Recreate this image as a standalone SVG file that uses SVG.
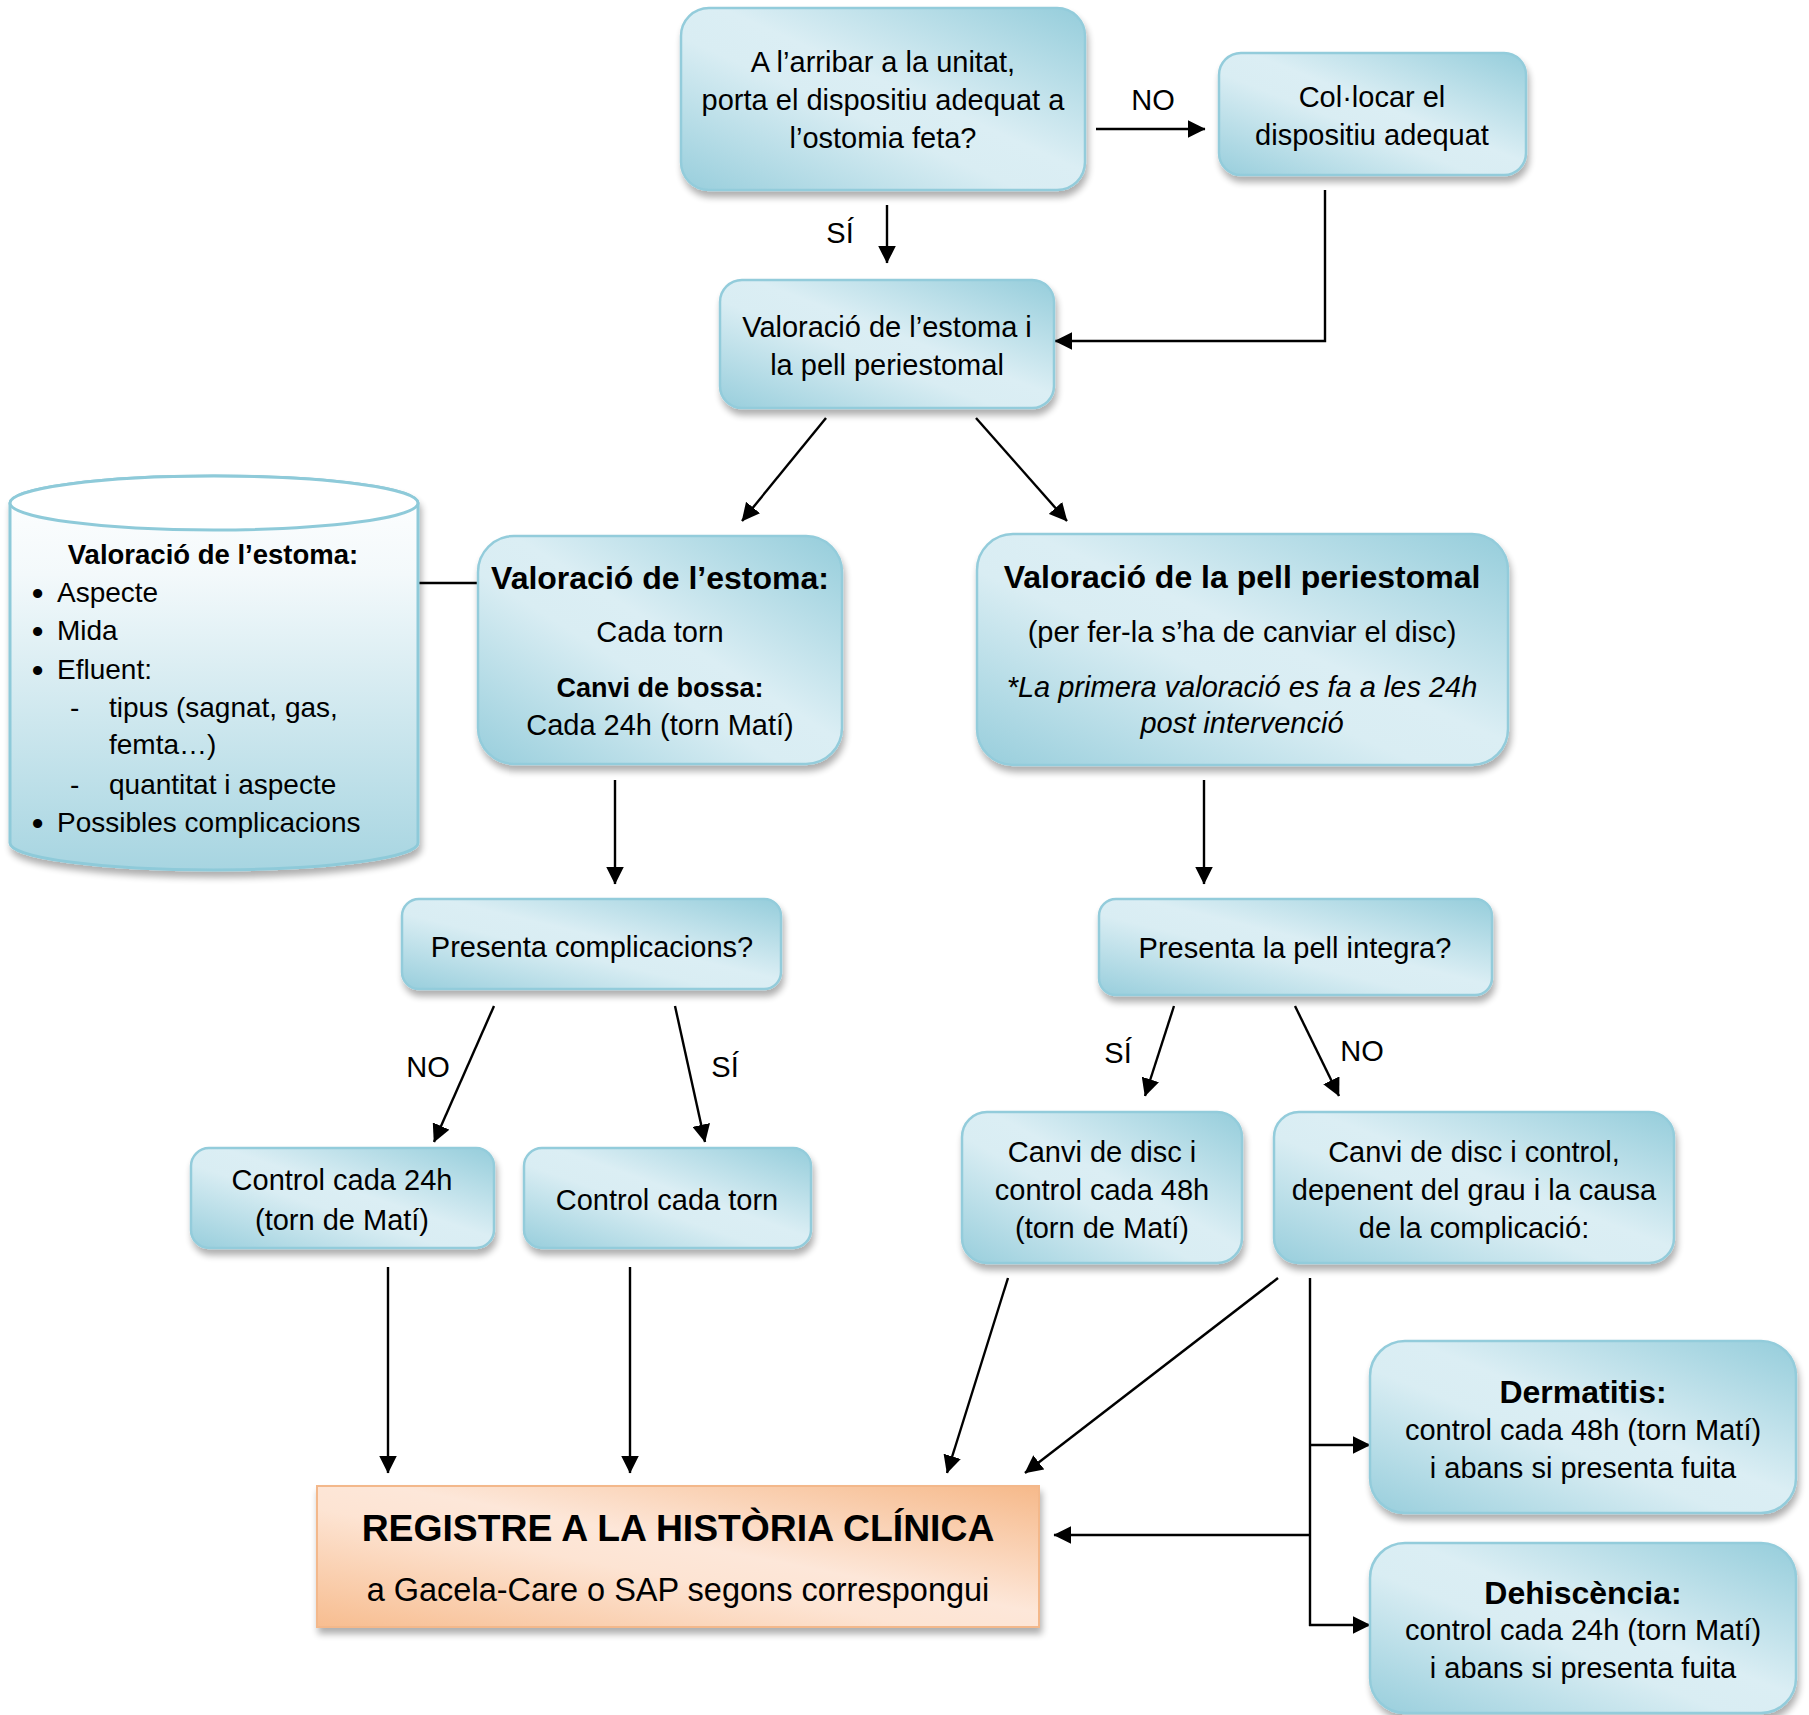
<svg xmlns="http://www.w3.org/2000/svg" width="1809" height="1715" viewBox="0 0 1809 1715">
<defs>
<linearGradient id="gb" x1="1" y1="0" x2="0" y2="1">
<stop offset="0" stop-color="#95cddb"/>
<stop offset="0.45" stop-color="#dbeef4"/>
<stop offset="0.58" stop-color="#d9edf3"/>
<stop offset="1" stop-color="#98cedc"/>
</linearGradient>
<linearGradient id="go" x1="1" y1="0" x2="0" y2="1">
<stop offset="0" stop-color="#f6b98a"/>
<stop offset="0.45" stop-color="#fde7d9"/>
<stop offset="0.58" stop-color="#fde4d3"/>
<stop offset="1" stop-color="#f7bd90"/>
</linearGradient>
<linearGradient id="gc" x1="0" y1="0" x2="0" y2="1">
<stop offset="0" stop-color="#ffffff"/>
<stop offset="0.25" stop-color="#f3f9fb"/>
<stop offset="1" stop-color="#a7d5e1"/>
</linearGradient>
<filter id="sh" x="-10%" y="-10%" width="125%" height="135%">
<feGaussianBlur in="SourceAlpha" stdDeviation="3.5"/>
<feOffset dx="2" dy="6" result="o"/>
<feComponentTransfer><feFuncA type="linear" slope="0.32"/></feComponentTransfer>
<feMerge><feMergeNode/><feMergeNode in="SourceGraphic"/></feMerge>
</filter>
<marker id="ah" markerUnits="userSpaceOnUse" markerWidth="18" markerHeight="18" viewBox="0 0 16 16" refX="15.5" refY="8" orient="auto">
<path d="M0,0 L16,8 L0,16 Z" fill="#000"/>
</marker>
<style>
.bx{fill:url(#gb);stroke:#93ccdb;stroke-width:2.5;filter:url(#sh)}
.ob{fill:url(#go);stroke:#f3b88b;stroke-width:2;filter:url(#sh)}
text{font-family:"Liberation Sans",Arial,sans-serif;fill:#000}
.t{font-size:29px;text-anchor:middle}
.tc{font-size:28px}
.bu{font-size:32px;font-weight:bold}
.h{font-size:32px;font-weight:bold;text-anchor:middle}
.hb{font-size:27px;font-weight:bold;text-anchor:middle}
.it{font-size:29px;font-style:italic;text-anchor:middle}
.c{fill:none;stroke:#000;stroke-width:2.4}
.ca{fill:none;stroke:#000;stroke-width:2.4;marker-end:url(#ah)}
</style>
</defs>

<g id="connectors">
<line class="ca" x1="1096" y1="129" x2="1205" y2="129"/>
<line class="ca" x1="887" y1="205" x2="887" y2="263"/>
<polyline class="ca" points="1325,190 1325,341 1055,341"/>
<line class="ca" x1="826" y1="418" x2="742" y2="521"/>
<line class="ca" x1="976" y1="418" x2="1067" y2="521"/>
<line class="c" x1="418" y1="583" x2="478" y2="583"/>
<line class="ca" x1="615" y1="780" x2="615" y2="884"/>
<line class="ca" x1="1204" y1="780" x2="1204" y2="884"/>
<line class="ca" x1="494" y1="1006" x2="434" y2="1142"/>
<line class="ca" x1="675" y1="1006" x2="705" y2="1142"/>
<line class="ca" x1="1174" y1="1006" x2="1145" y2="1096"/>
<line class="ca" x1="1295" y1="1006" x2="1339" y2="1096"/>
<line class="ca" x1="388" y1="1267" x2="388" y2="1473"/>
<line class="ca" x1="630" y1="1267" x2="630" y2="1473"/>
<line class="ca" x1="1008" y1="1278" x2="947" y2="1473"/>
<line class="ca" x1="1278" y1="1278" x2="1025" y2="1473"/>
<line class="c" x1="1310" y1="1278" x2="1310" y2="1626"/>
<line class="ca" x1="1310" y1="1445" x2="1370" y2="1445"/>
<line class="ca" x1="1309" y1="1625" x2="1370" y2="1625"/>
<line class="ca" x1="1310" y1="1535" x2="1054" y2="1535"/>
<text class="t" x="1153" y="110">NO</text>
<text class="t" x="840" y="243">SÍ</text>
<text class="t" x="428" y="1077">NO</text>
<text class="t" x="725" y="1077">SÍ</text>
<text class="t" x="1118" y="1063">SÍ</text>
<text class="t" x="1362" y="1061">NO</text>
</g>

<g id="n-arribar">
<rect class="bx" x="681" y="8" width="404" height="182" rx="28"/>
<text class="t" x="883" y="72">A l’arribar a la unitat,</text>
<text class="t" x="883" y="110">porta el dispositiu adequat a</text>
<text class="t" x="883" y="148">l’ostomia feta?</text>
</g>

<g id="n-collocar">
<rect class="bx" x="1219" y="53" width="307" height="122" rx="22"/>
<text class="t" x="1372" y="107">Col·locar el</text>
<text class="t" x="1372" y="145">dispositiu adequat</text>
</g>

<g id="n-valoracio">
<rect class="bx" x="720" y="280" width="334" height="128" rx="22"/>
<text class="t" x="887" y="337">Valoració de l’estoma i</text>
<text class="t" x="887" y="375">la pell periestomal</text>
</g>

<g id="n-cilindre">
<path d="M10,503 A204,27 0 0 1 418,503 V843 A204,27 0 0 1 10,843 Z" fill="url(#gc)" stroke="#8ecad9" stroke-width="3" filter="url(#sh)"/>
<ellipse cx="214" cy="503" rx="204" ry="27" fill="#ffffff" stroke="#8ecad9" stroke-width="3"/>
<text class="hb" x="213" y="564" style="font-size:27.5px">Valoració de l’estoma:</text>
<text class="bu" x="32" y="604">•</text><text class="tc" x="57" y="602">Aspecte</text>
<text class="bu" x="32" y="642">•</text><text class="tc" x="57" y="640">Mida</text>
<text class="bu" x="32" y="681">•</text><text class="tc" x="57" y="679">Efluent:</text>
<text class="tc" x="70" y="717">-</text><text class="tc" x="109" y="717">tipus (sagnat, gas,</text>
<text class="tc" x="109" y="754">femta…)</text>
<text class="tc" x="70" y="794">-</text><text class="tc" x="109" y="794">quantitat i aspecte</text>
<text class="bu" x="32" y="834">•</text><text class="tc" x="57" y="832">Possibles complicacions</text>
</g>

<g id="n-estoma">
<rect class="bx" x="478" y="536" width="364" height="228" rx="36"/>
<text class="h" x="660" y="589">Valoració de l’estoma:</text>
<text class="t" x="660" y="642">Cada torn</text>
<text class="hb" x="660" y="697">Canvi de bossa:</text>
<text class="t" x="660" y="735">Cada 24h (torn Matí)</text>
</g>

<g id="n-pell">
<rect class="bx" x="977" y="534" width="531" height="231" rx="36"/>
<text class="h" x="1242" y="588">Valoració de la pell periestomal</text>
<text class="t" x="1242" y="642">(per fer-la s’ha de canviar el disc)</text>
<text class="it" x="1242" y="697">*La primera valoració es fa a les 24h</text>
<text class="it" x="1242" y="733">post intervenció</text>
</g>

<g id="n-complicacions">
<rect class="bx" x="402" y="899" width="379" height="90" rx="17"/>
<text class="t" x="592" y="957">Presenta complicacions?</text>
</g>

<g id="n-integra">
<rect class="bx" x="1099" y="899" width="393" height="96" rx="17"/>
<text class="t" x="1295" y="958">Presenta la pell integra?</text>
</g>

<g id="n-control24">
<rect class="bx" x="191" y="1148" width="303" height="100" rx="18"/>
<text class="t" x="342" y="1190">Control cada 24h</text>
<text class="t" x="342" y="1230">(torn de Matí)</text>
</g>

<g id="n-controltorn">
<rect class="bx" x="524" y="1148" width="287" height="100" rx="18"/>
<text class="t" x="667" y="1210">Control cada torn</text>
</g>

<g id="n-disc48">
<rect class="bx" x="962" y="1112" width="280" height="151" rx="25"/>
<text class="t" x="1102" y="1162">Canvi de disc i</text>
<text class="t" x="1102" y="1200">control cada 48h</text>
<text class="t" x="1102" y="1238">(torn de Matí)</text>
</g>

<g id="n-disccontrol">
<rect class="bx" x="1274" y="1112" width="400" height="151" rx="25"/>
<text class="t" x="1474" y="1162">Canvi de disc i control,</text>
<text class="t" x="1474" y="1200">depenent del grau i la causa</text>
<text class="t" x="1474" y="1238">de la complicació:</text>
</g>

<g id="n-dermatitis">
<rect class="bx" x="1370" y="1341" width="426" height="172" rx="35"/>
<text class="h" x="1583" y="1403">Dermatitis:</text>
<text class="t" x="1583" y="1440">control cada 48h (torn Matí)</text>
<text class="t" x="1583" y="1478">i abans si presenta fuita</text>
</g>

<g id="n-dehiscencia">
<rect class="bx" x="1370" y="1543" width="426" height="170" rx="35"/>
<text class="h" x="1583" y="1604">Dehiscència:</text>
<text class="t" x="1583" y="1640">control cada 24h (torn Matí)</text>
<text class="t" x="1583" y="1678">i abans si presenta fuita</text>
</g>

<g id="n-registre">
<rect class="ob" x="317" y="1486" width="722" height="141"/>
<text x="678" y="1541" style="font-size:37.3px;font-weight:bold;text-anchor:middle">REGISTRE A LA HISTÒRIA CLÍNICA</text>
<text x="678" y="1601" style="font-size:32.5px;text-anchor:middle">a Gacela-Care o SAP segons correspongui</text>
</g>
</svg>
